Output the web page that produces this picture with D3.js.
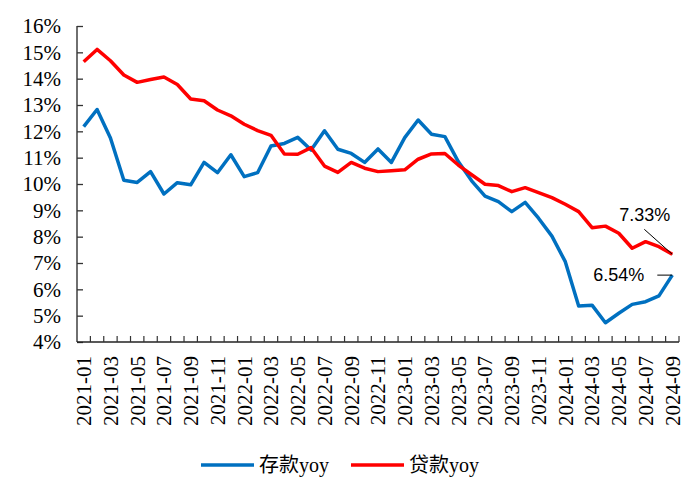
<!DOCTYPE html>
<html>
<head>
<meta charset="utf-8">
<script src="https://cdn.jsdelivr.net/npm/d3@7"></script>
<style>
  body { margin: 0; background: #fff; }
  svg { display: block; }
  .serif { font-family: "Liberation Serif", "DejaVu Serif", serif; }
  .cjk { font-family: "Liberation Serif", "DejaVu Serif", "Noto Sans CJK SC", serif; }
  .sans { font-family: "Liberation Sans", Arial, sans-serif; }
</style>
</head>
<body>
<svg id="chart"></svg>
<script>
const months = [
  "2021-01","2021-02","2021-03","2021-04","2021-05","2021-06","2021-07","2021-08","2021-09","2021-10","2021-11","2021-12",
  "2022-01","2022-02","2022-03","2022-04","2022-05","2022-06","2022-07","2022-08","2022-09","2022-10","2022-11","2022-12",
  "2023-01","2023-02","2023-03","2023-04","2023-05","2023-06","2023-07","2023-08","2023-09","2023-10","2023-11","2023-12",
  "2024-01","2024-02","2024-03","2024-04","2024-05","2024-06","2024-07","2024-08","2024-09"
];

// 存款yoy
const deposit = [12.18, 12.83, 11.75, 10.14, 10.06, 10.47, 9.62, 10.05, 9.97, 10.82, 10.43, 11.11,
  10.28, 10.43, 11.44, 11.54, 11.77, 11.29, 12.02, 11.32, 11.16, 10.82, 11.33, 10.82,
  11.76, 12.43, 11.89, 11.8, 10.85, 10.12, 9.54, 9.33, 8.95, 9.3, 8.7, 8.02,
  7.05, 5.37, 5.4, 4.73, 5.09, 5.43, 5.53, 5.75, 6.54];

// 贷款yoy
const loan = [14.64, 15.11, 14.68, 14.14, 13.86, 13.97, 14.06, 13.78, 13.23, 13.16, 12.81, 12.59,
  12.27, 12.03, 11.85, 11.14, 11.13, 11.38, 10.68, 10.44, 10.82, 10.6, 10.47, 10.5,
  10.54, 10.94, 11.14, 11.16, 10.72, 10.35, 9.99, 9.94, 9.71, 9.86, 9.67, 9.48,
  9.23, 8.95, 8.34, 8.4, 8.13, 7.56, 7.81, 7.62, 7.33];

const yTicks = [4, 5, 6, 7, 8, 9, 10, 11, 12, 13, 14, 15, 16];
const tickLabels = months.filter((d, i) => i % 2 === 0);

const width = 683, height = 477;

const svg = d3.select("#chart")
    .attr("width", width)
    .attr("height", height)
    .style("background", "#fff");

const x = d3.scaleBand()
    .domain(months)
    .range([77, 679]);

const y = d3.scaleLinear()
    .domain([4, 16])
    .range([342, 26]);

// y axis
const yAxis = svg.append("g")
    .attr("transform", "translate(77,0)")
    .call(d3.axisRight(y).tickValues(yTicks).tickSize(6).tickFormat(""));
yAxis.select(".domain").attr("stroke", "#222").attr("stroke-width", 1.3).attr("d", "M0,26V342");
yAxis.selectAll(".tick line").attr("stroke", "#333").attr("stroke-width", 1.3);

svg.append("g")
    .selectAll("text")
    .data(yTicks)
    .join("text")
    .attr("class", "serif")
    .attr("x", 61)
    .attr("y", d => y(d))
    .attr("dy", "0.35em")
    .attr("text-anchor", "end")
    .style("font-size", "21px")
    .attr("fill", "#000")
    .text(d => d + "%");

// x axis (ticks between categories, pointing up)
const xAxis = svg.append("g")
    .attr("transform", "translate(0,342)");
xAxis.append("path")
    .attr("d", "M77,0H679")
    .attr("stroke", "#222")
    .attr("stroke-width", 1.3);
xAxis.selectAll("line.tk")
    .data(months)
    .join("line")
    .attr("class", "tk")
    .attr("x1", d => x(d) + x.bandwidth())
    .attr("x2", d => x(d) + x.bandwidth())
    .attr("y1", 0)
    .attr("y2", -6)
    .attr("stroke", "#333")
    .attr("stroke-width", 1.2);

svg.append("g")
    .selectAll("text")
    .data(tickLabels)
    .join("text")
    .attr("class", "serif")
    .attr("transform", d => `translate(${x(d) + x.bandwidth() / 2},356) rotate(-90)`)
    .attr("dy", "0.35em")
    .attr("text-anchor", "end")
    .style("font-size", "21px")
    .attr("fill", "#000")
    .text(d => d);

// lines
const line = d3.line()
    .x((d, i) => x(months[i]) + x.bandwidth() / 2)
    .y(d => y(d));

svg.append("path")
    .datum(deposit)
    .attr("fill", "none")
    .attr("stroke", "#0070C0")
    .attr("stroke-width", 3.5)
    .attr("stroke-linejoin", "round")
    .attr("d", line);

svg.append("path")
    .datum(loan)
    .attr("fill", "none")
    .attr("stroke", "#FF0000")
    .attr("stroke-width", 3.5)
    .attr("stroke-linejoin", "round")
    .attr("d", line);

// annotations
const lastX = x(months[months.length - 1]) + x.bandwidth() / 2;
const lastLoan = loan[loan.length - 1];
const lastDep = deposit[deposit.length - 1];

svg.append("line")
    .attr("x1", lastX - 28).attr("y1", y(lastLoan) - 25)
    .attr("x2", lastX).attr("y2", y(lastLoan))
    .attr("stroke", "#000").attr("stroke-width", 1);
svg.append("text")
    .attr("class", "sans")
    .attr("x", lastX - 2)
    .attr("y", y(lastLoan) - 33)
    .attr("text-anchor", "end")
    .style("font-size", "18px")
    .attr("fill", "#000")
    .text(lastLoan.toFixed(2) + "%");

svg.append("line")
    .attr("x1", lastX - 15).attr("y1", y(lastDep))
    .attr("x2", lastX).attr("y2", y(lastDep))
    .attr("stroke", "#000").attr("stroke-width", 1);
svg.append("text")
    .attr("class", "sans")
    .attr("x", lastX - 28)
    .attr("y", y(lastDep))
    .attr("dy", "0.35em")
    .attr("text-anchor", "end")
    .style("font-size", "18px")
    .attr("fill", "#000")
    .text(lastDep.toFixed(2) + "%");

// legend
const legendItems = [
    { label: "存款yoy", color: "#0070C0", x: 201 },
    { label: "贷款yoy", color: "#FF0000", x: 351 }
];
legendItems.forEach(item => {
    svg.append("line")
        .attr("x1", item.x).attr("x2", item.x + 53)
        .attr("y1", 465).attr("y2", 465)
        .attr("stroke", item.color)
        .attr("stroke-width", 3.5);
    svg.append("text")
        .attr("class", "cjk")
        .attr("x", item.x + 58)
        .attr("y", 465)
        .attr("dy", "0.35em")
        .style("font-size", "20px")
        .attr("fill", "#000")
        .text(item.label);
});
</script>
</body>
</html>
